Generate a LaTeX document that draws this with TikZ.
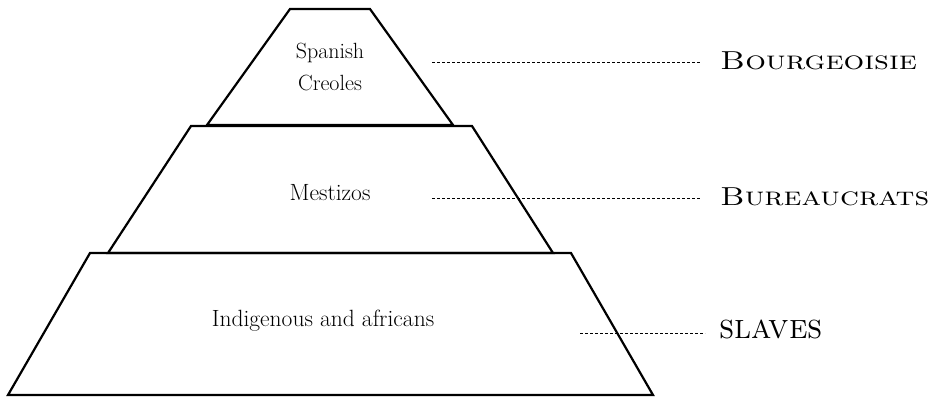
\documentclass[tikz,border=0pt]{standalone}
\newcommand{\widetext}[2]{\scalebox{#1}[1]{#2}}
\begin{document}
\begin{tikzpicture}[x=1pt,y=-1pt,
  tier/.style={draw=black, line width=2.2pt, line join=miter},
  lead/.style={draw=black, line width=0.9pt, dash pattern=on 3pt off 2pt},
  inner/.style={font=\fontsize{23.5}{32}\selectfont, align=center, inner sep=0},
  lab/.style={font=\fontsize{26}{30}\selectfont\scshape, anchor=base west, inner sep=0}]
\useasboundingbox (0,0) rectangle (929,397);
\draw[tier] (290,9) -- (370,9) -- (453,125) -- (207,125) -- cycle;
\draw[tier] (191,126) -- (472,126) -- (553,253) -- (108,253) -- cycle;
\draw[tier] (90,253) -- (571,253) -- (653,395) -- (8,395) -- cycle;
\node[inner, font=\fontsize{22}{32}\selectfont] (top) at (330,67) {Spanish\\Creoles};
\node[inner, anchor=base] (mid) at (330,200) {Mestizos};
\node[inner, anchor=base] (bot) at (323,326) {Indigenous and africans};
\coordinate (c1) at (432,62);
\coordinate (c2) at (432,198);
\coordinate (c3) at (580,333);
\node[lab] (l1) at (720,69) {\widetext{1.25}{Bourgeoisie}};
\node[lab] (l2) at (720,205) {\widetext{1.23}{Bureaucrats}};
\node[lab, font=\fontsize{35}{40}\selectfont\scshape] (l3) at (719,338) {\widetext{0.95}{slaves}};
\draw[lead] (c1) -- ([xshift=-20pt]c1 -| l1.west);
\draw[lead] (c2) -- ([xshift=-20pt]c2 -| l2.west);
\draw[lead] (c3) -- ([xshift=-14pt]c3 -| l3.west);
\end{tikzpicture}
\end{document}
